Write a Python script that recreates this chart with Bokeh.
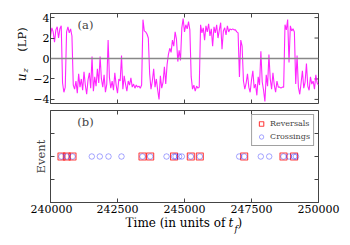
import numpy as np
from bokeh.plotting import figure
from bokeh.models import (Range1d, FixedTicker, Span, Label, Legend, LegendItem,
                          BasicTickFormatter, Spacer)
from bokeh.core.properties import value
from bokeh.layouts import column, row
from bokeh.embed import file_html
from bokeh.resources import INLINE

# ---- data ----
t_start = 240000
t_step = 50
uz = [2.2, 3.0, 2.6, 1.6, 2.8, 3.1, 2.0, 2.9, 3.2,
      -2.4, -3.3, -2.8,
      2.6, 3.1, 2.5, 2.9, 2.2,
      -2.6, -3.0,
      -2.2, -3.4, -1.5, -2.8, -2.0, -3.1, -1.3, -2.6, -3.5, -2.1,
      -1.4, -2.9, 0.2, -3.2, -1.8, -2.7, -1.0, -2.4, 0.2, -2.0,
      -2.8, -1.6, -3.3, -2.5, 1.8, -1.9, -2.9, -2.2, -3.1, -1.4,
      -2.6, -3.4, -2.0, -2.2, 0.3, -3.0, -1.7, -2.5, -3.2, -2.2,
      -2.6, -1.9, -2.8, -2.5, -2.9, -2.6, -2.8, -2.7, -2.9, -2.6,
      3.8, 2.7, 2.6, 2.4, 2.0,
      -1.5, -3.0,
      -2.2, -1.0, -2.8, -2.0, -3.1, -4.0, -1.7, -2.9, -2.3, -0.8, -2.5,
      -0.6, 0.4, 1.0, 0.6, 1.8, 1.2, 2.6, 1.9, -0.3, 0.8, -0.2, 3.0,
      3.9, 2.6, 3.3, 2.9, 3.6, 2.8,
      -1.8, -3.0, -2.6, -3.2, -2.7, -2.9, -2.8,
      3.3, 2.5, 3.0, 1.8, 3.2, 2.6, 3.4, 2.2, 2.9, 1.2, 3.1, 2.5, 3.3, 2.0,
      2.8, 3.5, 0.9, 2.7, 3.0, 2.3, 3.2, 2.6, 2.9, 2.8, 2.9, 2.8, 2.8, 2.6, 2.5,
      -1.8, 1.8, 1.2, -2.2,
      -3.0, -2.4, -1.5, -2.8, -3.3, -2.1, -1.2, -2.9, -2.5, -3.6,
      -1.8, -2.6, 0.7, -2.3, -3.1, -4.2, -1.6, -2.7, 0.4, -2.0,
      -3.0, -1.4, -2.6, -3.3, -2.2, -2.8, -2.8, -2.9, -2.8, -2.8,
      3.3, 2.8, 3.8, -0.4, 3.2, 2.7, 2.9, 2.6,
      -2.5, 0.3, -2.8,
      -3.5, -2.4, -1.2, -2.9, -2.3, -0.5, -2.7, -3.1, -1.8, -2.5,
      -2.2, -3.0, -1.6, -2.4, -2.6]
time = t_start + t_step * np.arange(len(uz))

reversals = [240410, 240608, 240821, 243433, 243720, 244610, 245235,
             245571, 247227, 248694, 249090]
crossings = [240410, 240608, 240821, 241541, 241840, 242164, 242649,
             243433, 243720, 244330, 244610, 244670, 244800, 244900,
             245235, 245571, 247040, 247227, 247847, 248160, 248694,
             248900, 249090, 249160]
event_level = 1.0

x_min, x_max = 240000, 250000
uz_min, uz_max = -4.4, 4.4
ev_min, ev_max = 0.0, 2.0
x_ticks = [240000, 242500, 245000, 247500, 250000]
uz_ticks = [-4, -2, 0, 2, 4]
ev_ticks = [0.5, 1.0, 1.5]

FONT = "DejaVu Serif"
AX = "#444444"
LEFT_STRIP = 30
BL = 18          # left border of the panels
BR = 32          # right border of the panels
FW = 268         # frame width
TOP1, FH1, BOT1 = 13, 90, 3


def style_axis(ax, ticks):
    ax.ticker = FixedTicker(ticks=ticks)
    ax.major_tick_in = 4
    ax.major_tick_out = 0
    ax.minor_tick_in = 0
    ax.minor_tick_out = 0
    ax.axis_line_color = AX
    ax.major_tick_line_color = AX
    ax.major_label_text_font = FONT
    ax.major_label_text_font_size = "11px"
    ax.major_label_text_color = "black"
    ax.major_label_standoff = 2


def make_fig(yr, h, top, bottom, xloc):
    p = figure(frame_width=FW, frame_height=h, x_range=Range1d(x_min, x_max),
               y_range=yr, output_backend="svg", toolbar_location=None,
               min_border_left=BL, min_border_right=BR, min_border_top=top,
               min_border_bottom=bottom, x_axis_location=xloc)
    p.grid.visible = False
    p.outline_line_color = AX
    p.outline_line_width = 1
    p.background_fill_color = "white"
    p.border_fill_color = "white"
    return p


def tick_marks(p, xs, ys, vertical):
    # inward tick marks: half of each dash is clipped away by the frame
    p.scatter(xs, ys, marker="dash", size=8, angle=(np.pi / 2 if vertical else 0),
              line_color=AX, line_width=1)


def text_strip(w, h, y_top, y_bottom):
    s = figure(width=w, height=h, x_range=Range1d(0, w),
               y_range=Range1d(y_bottom, y_top), output_backend="svg",
               title=None, toolbar_location=None, x_axis_location=None,
               y_axis_location=None, min_border=0)
    s.grid.visible = False
    s.outline_line_color = None
    s.border_fill_color = "white"
    s.background_fill_color = "white"
    return s


# ---- panel (a) ----
p1 = make_fig(Range1d(uz_min, uz_max), FH1, TOP1, BOT1, None)
style_axis(p1.left[0], uz_ticks)
p1.left[0].major_label_standoff = 1
p1.left[0].major_label_overrides = {-4: "\u22124", -2: "\u22122"}
tick_marks(p1, x_ticks, [uz_min] * len(x_ticks), True)
tick_marks(p1, x_ticks, [uz_max] * len(x_ticks), True)
tick_marks(p1, [x_max] * len(uz_ticks), uz_ticks, False)

p1.line(time, uz, line_color="#ff00ff", line_width=1.1, line_alpha=0.85)
p1.add_layout(Span(location=0, dimension="width", line_color="#888888",
                   line_width=1.5))
p1.add_layout(Label(x=35, y=79, x_units="screen", y_units="screen", text="(a)",
                    text_font=FONT, text_font_size="11.5px",
                    text_align="center", text_baseline="middle"))

# y label u_z (LP) in a strip left of panel (a); its frame lines up with
# the frame of panel (a), so y is given in page pixels from the top
s1 = text_strip(LEFT_STRIP, TOP1 + FH1 + BOT1, TOP1, TOP1 + FH1)
s1.text(x=[21], y=[77], text=["u"], angle=np.pi / 2, text_font=value(FONT),
        text_font_style="italic", text_font_size="12px", text_align="center",
        text_baseline="middle")
s1.text(x=[25], y=[70], text=["z"], angle=np.pi / 2, text_font=value(FONT),
        text_font_style="italic", text_font_size="8px", text_align="center",
        text_baseline="middle")
s1.text(x=[21], y=[39], text=["(LP)"], angle=np.pi / 2, text_font=value(FONT),
        text_font_size="11.5px", text_align="center", text_baseline="middle")

# ---- panel (b) ----
p2 = make_fig(Range1d(ev_min, ev_max), 92, 4, 15, "below")
style_axis(p2.below[0], x_ticks)
p2.below[0].formatter = BasicTickFormatter(use_scientific=False)
style_axis(p2.left[0], [])
p2.left[0].axis_label = "Event"
p2.left[0].axis_label_text_font = FONT
p2.left[0].axis_label_text_font_style = "normal"
p2.left[0].axis_label_text_font_size = "11.5px"
p2.left[0].axis_label_standoff = 3
tick_marks(p2, x_ticks, [ev_max] * len(x_ticks), True)
tick_marks(p2, [x_min] * len(ev_ticks), ev_ticks, False)
tick_marks(p2, [x_max] * len(ev_ticks), ev_ticks, False)

r_rev = p2.scatter(reversals, [event_level] * len(reversals), marker="square",
                   size=7, fill_color=None, line_color="red", line_alpha=0.75,
                   line_width=1.1)
r_cross = p2.scatter(crossings, [event_level] * len(crossings), marker="circle",
                     size=5.5, fill_color=None, line_color="blue",
                     line_alpha=0.35, line_width=1)

legend = Legend(items=[LegendItem(label="Reversals", renderers=[r_rev]),
                       LegendItem(label="Crossings", renderers=[r_cross])],
                location="top_right", label_text_font=FONT,
                label_text_font_size="8px", border_line_color=AX,
                border_line_width=1, padding=3, spacing=2, margin=4,
                glyph_height=11, glyph_width=12, label_height=11,
                label_standoff=3, background_fill_alpha=1)
p2.add_layout(legend)
p2.add_layout(Label(x=35, y=81, x_units="screen", y_units="screen", text="(b)",
                    text_font=FONT, text_font_size="11.5px",
                    text_align="center", text_baseline="middle"))

# x title: Time (in units of t_f) in a strip below panel (b)
TOTAL_W = LEFT_STRIP + BL + FW + BR
s3 = text_strip(TOTAL_W, 28, 0, 28)
s3.text(x=[225], y=[5.7], text=["Time (in units of"], text_font=value(FONT),
        text_font_size="12px", text_align="right", text_baseline="middle")
s3.text(x=[230.5], y=[5.7], text=["t"], text_font=value(FONT),
        text_font_style="italic", text_font_size="12px", text_align="center",
        text_baseline="middle")
s3.text(x=[235.5], y=[11.5], text=["f"], text_font=value(FONT),
        text_font_style="italic", text_font_size="8.5px", text_align="center",
        text_baseline="middle")
s3.text(x=[239.3], y=[5.7], text=[")"], text_font=value(FONT),
        text_font_size="12px", text_align="center", text_baseline="middle")

layout = column(row(s1, p1), row(Spacer(width=LEFT_STRIP, height=111), p2), s3)
open("out.html", "w").write(file_html(layout, INLINE))
